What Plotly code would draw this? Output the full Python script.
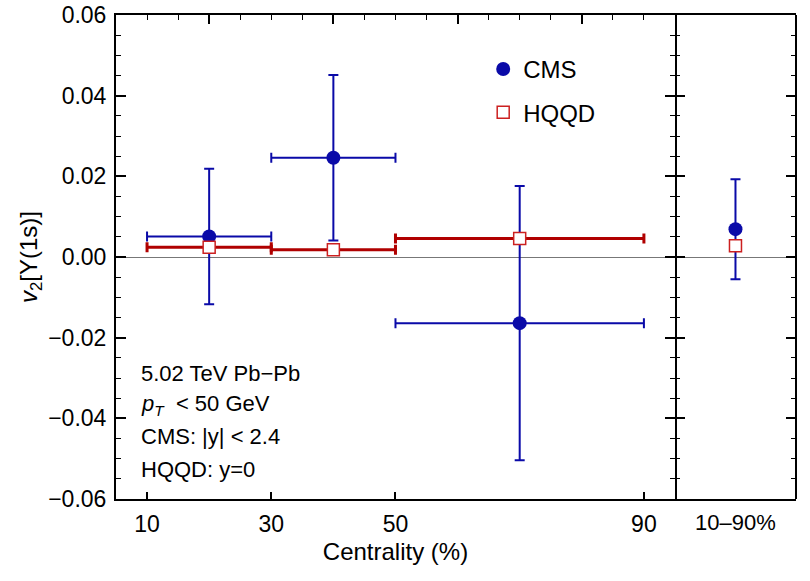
import plotly.graph_objects as go

# centrality bins (%)
bin_centers = [20, 40, 70]
bin_half = [10, 10, 20]

# CMS measurement
cms_v2 = [0.0051, 0.0246, -0.0164]
cms_err = [0.0168, 0.0205, 0.0340]

# HQQD model
hqqd_v2 = [0.0024, 0.0018, 0.0046]

# integrated 10-90% bin
int_label = ["10–90%"]
cms_int = [0.0069]
cms_int_err = [0.0124]
hqqd_int = [0.0028]

blue = '#0a0aa8'
red = '#b00000'
sq_red = '#cc2020'
font = 'Liberation Sans, Arial, sans-serif'

fig = go.Figure()

fig.add_trace(go.Scatter(
    x=bin_centers, y=cms_v2, mode='markers', name='CMS',
    marker=dict(symbol='circle', size=14, color=blue),
    error_x=dict(type='data', array=bin_half, color=blue, thickness=2, width=5),
    error_y=dict(type='data', array=cms_err, color=blue, thickness=2, width=5),
    legendgroup='a'
))
fig.add_trace(go.Scatter(
    x=bin_centers, y=hqqd_v2, mode='markers', name='HQQD',
    marker=dict(symbol='square', size=12, color='white', line=dict(color=sq_red, width=1.5)),
    error_x=dict(type='data', array=bin_half, color=red, thickness=3, width=5),
    legendgroup='b'
))

# right panel
fig.add_trace(go.Scatter(
    x=int_label, y=cms_int, mode='markers', xaxis='x2', yaxis='y2', showlegend=False,
    marker=dict(symbol='circle', size=14, color=blue),
    error_y=dict(type='data', array=cms_int_err, color=blue, thickness=2, width=5)
))
fig.add_trace(go.Scatter(
    x=int_label, y=hqqd_int, mode='markers', xaxis='x2', yaxis='y2', showlegend=False,
    marker=dict(symbol='square', size=12, color='white', line=dict(color=sq_red, width=1.5))
))

# dummy trace so the top tick axis is drawn
fig.add_trace(go.Scatter(x=[None], y=[None], xaxis='x3', yaxis='y', showlegend=False, hoverinfo='skip'))

split = 0.822
yr = [-0.06, 0.06]
minor_y = dict(dtick=0.005, ticks='inside', ticklen=5, tickwidth=1, tickcolor='black')

fig.update_layout(
    width=810, height=581,
    margin=dict(l=116, r=14, t=15, b=82),
    plot_bgcolor='white', paper_bgcolor='white',
    font=dict(family=font, size=23, color='black'),
    xaxis=dict(domain=[0, split], range=[5, 95], tickvals=[10, 30, 50, 90],
               ticks='inside', ticklen=7, tickwidth=1.5, tickcolor='black',
               showline=True, linecolor='black', linewidth=2, mirror=True,
               showgrid=False, zeroline=False, automargin=False, ticklabelstandoff=3,
               ticklabeloverflow='allow',
               title=dict(text='Centrality (%)', font=dict(size=24), standoff=8)),
    xaxis3=dict(overlaying='x', side='top', range=[5, 95], tickvals=[20, 40, 60, 80],
                ticks='inside', ticklen=9, tickwidth=1.5, tickcolor='black', automargin=False,
                showticklabels=False, showgrid=False, zeroline=False, showline=False,
                minor=dict(dtick=5, tick0=0, ticks='inside', ticklen=5, tickwidth=1, tickcolor='black')),
    xaxis2=dict(domain=[split, 1], range=[-0.5, 0.5], type='category', automargin=False,
                ticks='', showline=True, linecolor='black', linewidth=2, mirror=True,
                showgrid=False, zeroline=False, tickfont=dict(size=22), ticklabelstandoff=3),
    yaxis=dict(range=yr, dtick=0.02, tickformat='.2f', ticks='inside', ticklen=10,
               tickwidth=1.5, tickcolor='black', mirror='ticks', automargin=False,
               showline=True, linecolor='black', linewidth=2, showgrid=False,
               zeroline=True, zerolinecolor='#777777', zerolinewidth=1, ticklabelstandoff=3,
               ticklabeloverflow='allow', minor=minor_y,
               title=dict(text='<i>v</i><sub>2</sub>[Υ(1s)]', font=dict(size=24), standoff=4)),
    yaxis2=dict(anchor='x2', range=yr, dtick=0.02, ticks='inside', ticklen=10,
                tickwidth=1.5, tickcolor='black', mirror='ticks', showticklabels=False,
                showline=False, showgrid=False, automargin=False,
                zeroline=True, zerolinecolor='#777777', zerolinewidth=1,
                minor=minor_y),
    showlegend=True,
    legend=dict(x=0.54, y=0.934, xanchor='left', yanchor='top', bgcolor='rgba(0,0,0,0)',
                font=dict(size=24), traceorder='grouped', tracegroupgap=9),
)

# right frame edge of the 10-90% panel
fig.add_shape(type='line', xref='paper', yref='paper', x0=1, x1=1, y0=0, y1=1,
              line=dict(color='black', width=2))

info = ['5.02 TeV Pb−Pb', '<i>p<sub>T</sub></i>  < 50 GeV', 'CMS: |y| < 2.4', 'HQQD: y=0']
info_y = [-0.0288, -0.0367, -0.0446, -0.0526]
for txt, yy in zip(info, info_y):
    fig.add_annotation(x=0.034, xref='paper', y=yy, yref='y', text=txt, showarrow=False,
                       xanchor='left', yanchor='middle', font=dict(size=22))

# drop the default page margin so the figure fills the window
fig.write_html("out.html", config={'displayModeBar': False},
               post_script="document.body.style.margin='0px';")
